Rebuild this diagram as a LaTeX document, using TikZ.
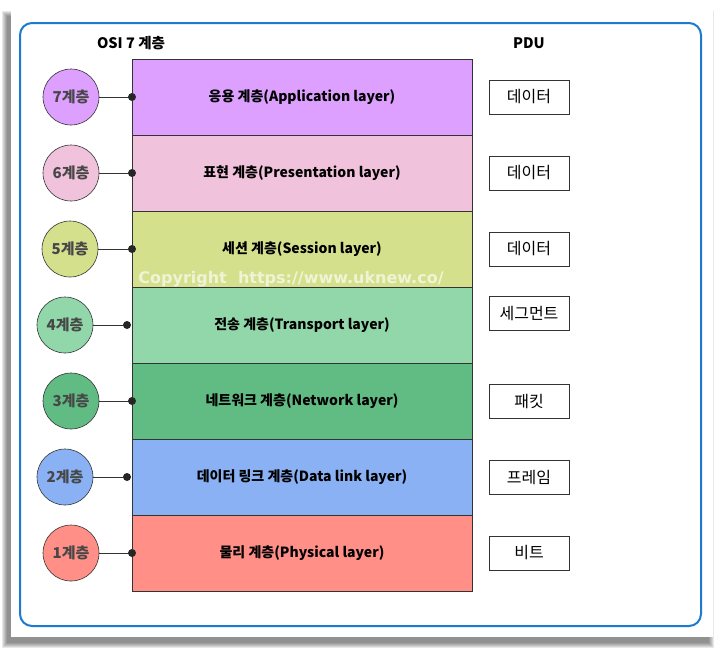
\documentclass[tikz,border=0pt]{standalone}
\usepackage{fontspec}
\setmainfont{Noto Sans CJK KR}
\newfontfamily\markfont{DejaVu Sans}
\usetikzlibrary{arrows.meta, positioning}

\definecolor{appcol}{RGB}{221,160,255}
\definecolor{precol}{RGB}{240,194,220}
\definecolor{sescol}{RGB}{213,224,141}
\definecolor{trncol}{RGB}{145,215,169}
\definecolor{netcol}{RGB}{97,188,132}
\definecolor{dlkcol}{RGB}{138,177,244}
\definecolor{phycol}{RGB}{255,143,135}
\definecolor{framecol}{RGB}{28,123,208}
\definecolor{edgecol}{RGB}{51,51,51}

\begin{document}
\begin{tikzpicture}[x=1pt, y=-1pt, semithick]
		\tikzstyle{layer}=[draw=edgecol, outer sep=0pt, minimum width=340pt, minimum height=76pt, inner sep=0pt, font=\fontsize{14}{16}\selectfont\bfseries]
		\tikzstyle{num}=[circle, draw=edgecol, minimum size=56pt, inner sep=0pt, text=black!72, font=\fontsize{15}{17}\selectfont\bfseries]
		\tikzstyle{pdu}=[draw=edgecol, fill=white, minimum width=80pt, minimum height=34pt, inner sep=0pt, font=\fontsize{16}{18}\selectfont]
		\tikzstyle{title}=[font=\fontsize{14.5}{16}\selectfont\bfseries]
		\tikzstyle{link}=[draw=edgecol, thin]
		
		\useasboundingbox (0,0) rectangle (725,649);
		
		% card with shadow
		\foreach \b in {5,4,3,2,1,0}
			\fill[black, opacity=0.09] (7-\b,16-\b) rectangle (709+\b,643+\b);
		\fill[white] (11,10) rectangle (713,637);
		\draw[framecol, line width=2pt, rounded corners=12pt] (20,23) rectangle (701,626);
		
		\node[title] (osi) at (131,43) {OSI 7 계층};
		\node[title] (pdu) at (529,43) {PDU};
		
		% layer stack
		\node[layer, fill=appcol] (L7) at (302,97) {응용 계층(Application layer)};
		\node[layer, fill=precol] (L6) [below=0pt of L7] {표현 계층(Presentation layer)};
		\node[layer, fill=sescol] (L5) [below=0pt of L6] {세션 계층(Session layer)};
		\node[layer, fill=trncol] (L4) [below=0pt of L5] {전송 계층(Transport layer)};
		\node[layer, fill=netcol] (L3) [below=0pt of L4] {네트워크 계층(Network layer)};
		\node[layer, fill=dlkcol] (L2) [below=0pt of L3] {데이터 링크 계층(Data link layer)};
		\node[layer, fill=phycol] (L1) [below=0pt of L2] {물리 계층(Physical layer)};
		
		\node[text=white, opacity=0.65, font=\markfont\fontsize{16}{18}\selectfont\bfseries] (mark) at (291,279) {Copyright\ \ https://www.uknew.co/};
		
		% layer numbers
		\node[num, fill=appcol] (N7) at (71,97)  {7계층};
		\node[num, fill=precol] (N6) at (71,173) {6계층};
		\node[num, fill=sescol] (N5) at (70,249) {5계층};
		\node[num, fill=trncol] (N4) at (65,325) {4계층};
		\node[num, fill=netcol] (N3) at (71,401) {3계층};
		\node[num, fill=dlkcol] (N2) at (65,477) {2계층};
		\node[num, fill=phycol] (N1) at (71,553) {1계층};
		
		\coordinate (P4) at ([xshift=-5pt]L4.west);
		\coordinate (P2) at ([xshift=-5pt]L2.west);
		
		\draw[link] (N7) -- (L7.west);
		\draw[link] (N6) -- (L6.west);
		\draw[link] (N5) -- (L5.west);
		\draw[link] (N4) -- (P4);
		\draw[link] (N3) -- (L3.west);
		\draw[link] (N2) -- (P2);
		\draw[link] (N1) -- (L1.west);
		\foreach \p in {L7.west, L6.west, L5.west, P4, L3.west, P2, L1.west}
			\fill[black!85] (\p) circle (4pt);
		
		% PDU boxes
		\node[pdu] (D7) at (529,97)  {데이터};
		\node[pdu] (D6) at (529,173) {데이터};
		\node[pdu] (D5) at (529,249) {데이터};
		\node[pdu] (D4) at (529,313) {세그먼트};
		\node[pdu] (D3) at (529,401) {패킷};
		\node[pdu] (D2) at (529,477) {프레임};
		\node[pdu] (D1) at (529,553) {비트};
	\end{tikzpicture}
\end{document}
